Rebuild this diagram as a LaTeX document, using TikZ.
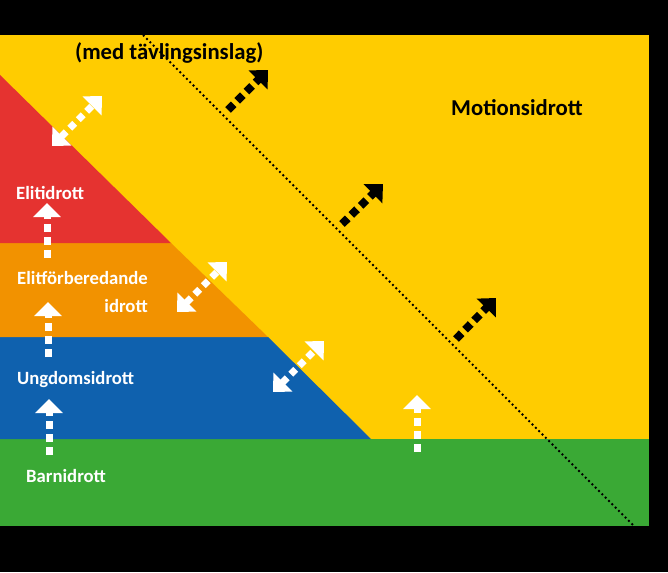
\documentclass[tikz,border=0pt]{standalone}
\usepackage{fontspec}
\setmainfont{Carlito}
\usetikzlibrary{arrows.meta}
\definecolor{cyellow}{HTML}{FFCC00}
\definecolor{cred}{HTML}{E53330}
\definecolor{corange}{HTML}{F29200}
\definecolor{cblue}{HTML}{0F61AE}
\definecolor{cgreen}{HTML}{3AA935}
\tikzset{
  wlabel/.style={text=white, font=\fontsize{18.7}{22}\selectfont\bfseries, inner sep=0pt},
  blabel/.style={text=black, font=\fontsize{22.7}{27}\selectfont\bfseries, inner sep=0pt},
  wdouble/.style={draw=white, line width=7pt, dash pattern=on 7pt off 5pt,
    {Triangle[width=26pt,length=14pt]}-{Triangle[width=26pt,length=14pt]}},
  wsingle/.style={draw=white, line width=7pt, dash pattern=on 8pt off 5pt,
    -{Triangle[width=27pt,length=14pt]}},
  bsingle/.style={draw=black, line width=8pt, dash pattern=on 8pt off 5pt,
    -{Triangle[width=26pt,length=14pt]}},
  divider/.style={draw=black, line width=1.9pt, dash pattern=on 1.9pt off 2.8pt}
}
\begin{document}
\begin{tikzpicture}[x=1pt,y=-1pt]
\fill[black] (0,0) rectangle (668,572);
\useasboundingbox (0,0) rectangle (668,572);
% bands
\fill[cyellow] (0,35) rectangle (649,526);
\fill[cgreen] (0,439) rectangle (649,526);
\fill[cblue] (0,337) -- (268,337) -- (371,439) -- (0,439) -- cycle;
\fill[corange] (0,243) -- (171,243) -- (268,337) -- (0,337) -- cycle;
\fill[cred] (0,75) -- (171,243) -- (0,243) -- cycle;
% divider line
\coordinate (dtop) at (143,35);
\coordinate (dbot) at (633,525);
\draw[divider] (dtop) -- (dbot);
% labels
\node[blabel, anchor=base west] (med) at (75,60) {(med tävlingsinslag)};
\node[blabel, anchor=base west] (motion) at (451,116) {Motionsidrott};
\node[wlabel, anchor=base west] (elit) at (16,199) {Elitidrott};
\node[wlabel, anchor=base west] (elitf) at (17,284) {Elitförberedande};
\node[wlabel, anchor=base east] (elitf2) at (148,312) {idrott};
\node[wlabel, anchor=base west] (ungdom) at (17,384) {Ungdomsidrott};
\node[wlabel, anchor=base west] (barn) at (26,482) {Barnidrott};
% double arrows
\coordinate (d1a) at (52,146); \coordinate (d1b) at (102,96);
\coordinate (d2a) at (177,312); \coordinate (d2b) at (227,262);
\coordinate (d3a) at (273,392); \coordinate (d3b) at (324,341);
\draw[wdouble] (d1a) -- (d1b);
\draw[wdouble] (d2a) -- (d2b);
\draw[wdouble] (d3a) -- (d3b);
% black arrows
\coordinate (b1a) at (228,110); \coordinate (b1b) at (268,70);
\coordinate (b2a) at (342,224); \coordinate (b2b) at (383,184);
\coordinate (b3a) at (456,339); \coordinate (b3b) at (496,298);
\draw[bsingle] (b1a) -- (b1b);
\draw[bsingle] (b2a) -- (b2b);
\draw[bsingle] (b3a) -- (b3b);
% vertical white arrows
\coordinate (v1a) at (47,258); \coordinate (v1b) at (47,203);
\coordinate (v2a) at (48,357); \coordinate (v2b) at (48,302);
\coordinate (v3a) at (49,455); \coordinate (v3b) at (49,399);
\coordinate (v4a) at (417,452); \coordinate (v4b) at (417,395);
\draw[wsingle] (v1a) -- (v1b);
\draw[wsingle] (v2a) -- (v2b);
\draw[wsingle] (v3a) -- (v3b);
\draw[wsingle] (v4a) -- (v4b);
\end{tikzpicture}
\end{document}
